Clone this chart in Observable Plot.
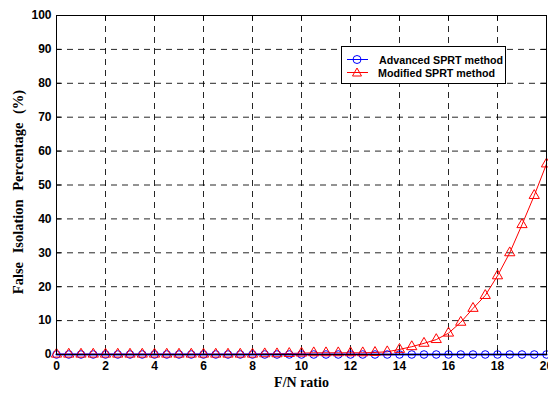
<!DOCTYPE html>
<html><head>
<meta charset="utf-8">
<script src="https://cdn.jsdelivr.net/npm/d3@7"></script>
<script src="https://cdn.jsdelivr.net/npm/@observablehq/plot@0.6"></script>
<style>
body{margin:0;background:#fff}
#wrap{position:relative;width:548px;height:394px}
#legend{position:absolute;left:341px;top:46px;width:165px;height:38px;border:1px solid #000;background:#fff;font:bold 10.7px "Liberation Sans",Arial,sans-serif;box-sizing:border-box}
#legend .row{position:absolute;left:0;height:13px;display:flex;align-items:center;white-space:nowrap}
#legend svg{margin-left:5px;margin-right:10px}
</style>
</head><body><div id="wrap"></div>
<script>
const fnRatio = [0,0.5,1,1.5,2,2.5,3,3.5,4,4.5,5,5.5,6,6.5,7,7.5,8,8.5,9,9.5,10,10.5,11,11.5,12,12.5,13,13.5,14,14.5,15,15.5,16,16.5,17,17.5,18,18.5,19,19.5,20];
const advanced = [0,0,0,0,0,0,0,0,0,0,0,0,0,0,0,0,0,0,0,0,0,0,0,0,0,0,0,0,0,0,0,0,0,0,0,0,0,0,0,0,0];
const modified = [0.1,0.1,0.1,0.1,0.1,0.1,0.1,0.1,0.1,0.1,0.1,0.1,0.1,0.1,0.1,0.1,0.1,0.2,0.2,0.3,0.4,0.5,0.5,0.5,0.5,0.5,0.6,0.8,1.5,2.3,3.3,4.4,6.3,9.5,13.6,17.4,23.2,30,38.3,46.9,56.2];
const xTicks = [0,2,4,6,8,10,12,14,16,18,20];
const yTicks = [0,10,20,30,40,50,60,70,80,90,100];
const seriesNames = ["Advanced SPRT method","Modified SPRT method"];

const advData = fnRatio.map((x,i)=>({x, y: advanced[i]}));
const modData = fnRatio.map((x,i)=>({x, y: modified[i]}));

const tickFont = {fontFamily:"Liberation Sans, Arial, sans-serif", fontWeight:"bold", fontSize:12};
const chart = Plot.plot({
  width:548, height:394,
  marginLeft:56, marginRight:2, marginTop:15, marginBottom:40,
  style:{fontFamily:"Liberation Sans, Arial, sans-serif", fontSize:"12px", fontWeight:"bold", background:"#fff", color:"#000"},
  x:{domain:[0,20]},
  y:{domain:[0,100]},
  marks:[
    Plot.gridX(xTicks,{stroke:"#000", strokeOpacity:0.85, strokeDasharray:"6,5"}),
    Plot.gridY(yTicks,{stroke:"#000", strokeOpacity:0.85, strokeDasharray:"6,5"}),
    Plot.ruleX(xTicks,{y1:0,y2:1.6,stroke:"#000"}),
    Plot.ruleX(xTicks,{y1:98.4,y2:100,stroke:"#000"}),
    Plot.ruleY(yTicks,{x1:0,x2:0.2,stroke:"#000"}),
    Plot.ruleY(yTicks,{x1:19.8,x2:20,stroke:"#000"}),
    Plot.axisX(xTicks,{tickSize:0, tickPadding:7, label:null, ...tickFont}),
    Plot.axisY(yTicks,{tickSize:0, tickPadding:5, label:null, ...tickFont}),
    Plot.line(modData,{x:"x",y:"y",stroke:"#ff0000",strokeWidth:1}),
    Plot.line(advData,{x:"x",y:"y",stroke:"#0000ff",strokeWidth:2.2}),
    Plot.dot(advData,{x:"x",y:"y",stroke:"#0000ff",fill:"none",r:3.8,strokeWidth:1}),
    Plot.dot(modData,{x:"x",y:"y",symbol:"triangle",stroke:"#ff0000",fill:"none",r:3.8,strokeWidth:1}),
    Plot.frame({stroke:"#000"}),
    Plot.text(["False Isolation Percentage (%)"],{frameAnchor:"left",textAnchor:"middle",dx:-38,dy:7,rotate:-90,fontFamily:"Liberation Serif, Times New Roman, serif",fontWeight:"bold",fontSize:14.5}),
    Plot.text(["F/N ratio"],{frameAnchor:"bottom",dy:32,fontFamily:"Liberation Serif, Times New Roman, serif",fontWeight:"bold",fontSize:14})
  ]
});
document.getElementById("wrap").appendChild(chart);
d3.select(chart).selectAll("text").filter(function(){return this.textContent.startsWith("False");}).style("word-spacing","5px");

// legend
const leg = document.createElement("div");
leg.id = "legend";
const colors = ["#0000ff","#ff0000"];
seriesNames.forEach((name,i)=>{
  const row = document.createElement("div");
  row.className = "row";
  row.style.top = (6 + i*13) + "px";
  const sym = i===0
    ? `<circle cx="10" cy="6.5" r="4" fill="none" stroke="${colors[i]}"/>`
    : `<path d="M10,2 L14.5,10 L5.5,10 Z" fill="none" stroke="${colors[i]}"/>`;
  row.innerHTML = `<svg width="21" height="13"><line x1="0" x2="21" y1="6.5" y2="6.5" stroke="${colors[i]}"/>${sym}</svg><span style="margin-left:${i===0?1:0}px">${name}</span>`;
  leg.appendChild(row);
});
document.getElementById("wrap").appendChild(leg);
</script>
</body></html>
